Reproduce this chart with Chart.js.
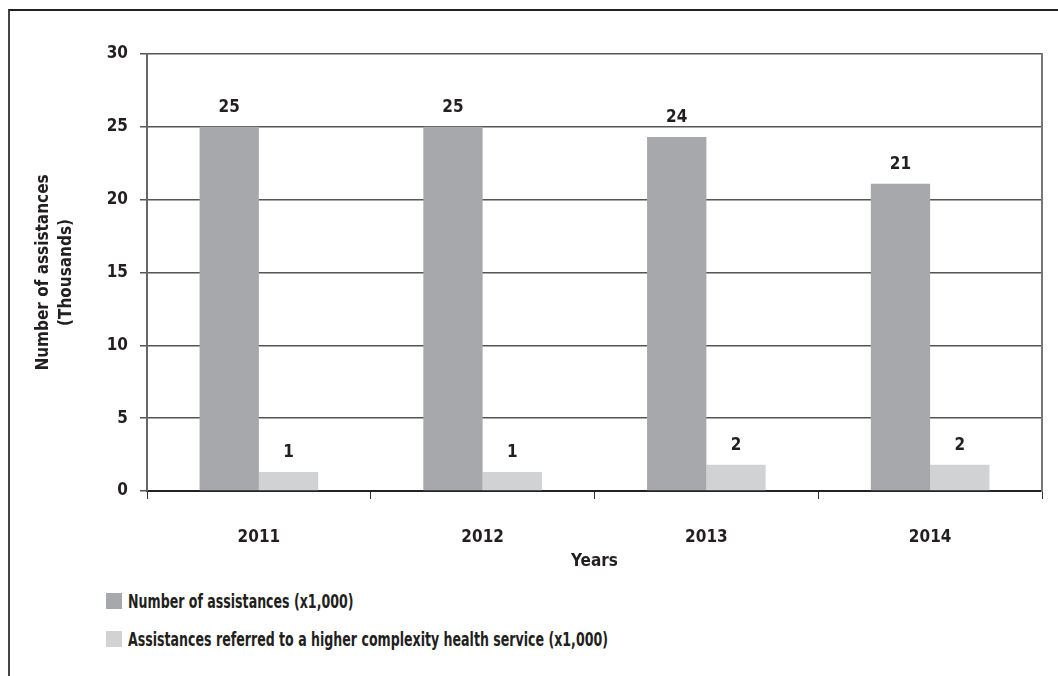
<!DOCTYPE html>
<html>
<head>
<meta charset="utf-8">
<script src="https://cdn.jsdelivr.net/npm/chart.js@4.4.1/dist/chart.umd.min.js"></script>
<style>
  html, body { margin: 0; padding: 0; background: #fff; }
  body { width: 1058px; height: 676px; position: relative; overflow: hidden;
         font-family: 'DejaVu Sans Condensed', 'Liberation Sans Narrow', sans-serif; }
  #frame { position: absolute; left: 8px; top: 9px; right: -2px; bottom: -2px;
           border-top: 2px solid #222; border-left: 2px solid #444; }
  #wrap { position: absolute; left: 0; top: 0; width: 1058px; height: 580px; }
  #legend { position: absolute; left: 106px; top: 582px; }
  .item { display: flex; align-items: center; height: 38px; }
  .box { width: 16px; height: 16px; margin-right: 6px; flex: none; }
  .txt { font-weight: bold; font-size: 20px; color: #231f20; white-space: nowrap;
         display: inline-block; transform: scaleX(0.7); transform-origin: left center; }
</style>
</head>
<body>
<div id="frame"></div>
<div id="wrap"><canvas id="chart"></canvas></div>
<div id="legend"></div>
<script>
// ===================================
// DATA
// ===================================
const years = ['2011', '2012', '2013', '2014'];
const assistances = [25.0, 25.0, 24.3, 21.1];
const referred = [1.3, 1.3, 1.8, 1.8];
const yTicks = [0, 5, 10, 15, 20, 25, 30];

const FONT = "'DejaVu Sans Condensed', 'Liberation Sans Narrow', sans-serif";
const TEXT = '#231f20';
const SIZE = 17;

// value labels above bars (rounded like the original)
const barLabels = {
    id: 'barLabels',
    afterDatasetsDraw(chart) {
        const c = chart.ctx;
        c.save();
        c.font = 'bold ' + SIZE + 'px ' + FONT;
        c.fillStyle = TEXT;
        c.textAlign = 'center';
        c.textBaseline = 'bottom';
        chart.data.datasets.forEach((ds, i) => {
            chart.getDatasetMeta(i).data.forEach((bar, j) => {
                c.fillText(Math.round(ds.data[j]), bar.x, bar.y - 11);
            });
        });
        c.restore();
    }
};

const ctx = document.getElementById('chart');
const chart = new Chart(ctx, {
    type: 'bar',
    data: {
        labels: years,
        datasets: [
            {
                label: 'Number of assistances (x1,000)',
                data: assistances,
                backgroundColor: '#a7a8ab',
                categoryPercentage: 0.53,
                barPercentage: 1.0
            },
            {
                label: 'Assistances referred to a higher complexity health service (x1,000)',
                data: referred,
                backgroundColor: '#d1d2d4',
                categoryPercentage: 0.53,
                barPercentage: 1.0
            }
        ]
    },
    options: {
        responsive: true,
        maintainAspectRatio: false,
        animation: false,
        layout: { padding: { top: 54, right: 16, left: 0, bottom: 0 } },
        plugins: {
            legend: { display: false },
            tooltip: { enabled: false }
        },
        scales: {
            x: {
                grid: { drawOnChartArea: false, color: '#333', tickLength: 8, offset: true },
                border: { color: '#222', width: 2 },
                ticks: {
                    color: TEXT,
                    font: { family: FONT, size: SIZE, weight: 'bold' },
                    padding: 28
                },
                title: {
                    display: true,
                    text: 'Years',
                    color: TEXT,
                    font: { family: FONT, size: SIZE, weight: 'bold' },
                    padding: { top: 2, bottom: 8 }
                },
                afterFit: (scale) => { scale.height = 89; }
            },
            y: {
                min: 0,
                max: 30,
                afterBuildTicks: (scale) => { scale.ticks = yTicks.map(v => ({ value: v })); },
                grid: { color: '#555', lineWidth: 1.5, tickLength: 7 },
                border: { color: '#666', width: 2 },
                ticks: {
                    color: TEXT,
                    font: { family: FONT, size: SIZE, weight: 'bold' },
                    padding: 12
                },
                title: {
                    display: true,
                    text: ['Number of assistances', '(Thousands)'],
                    color: TEXT,
                    font: { family: FONT, size: SIZE, weight: 'bold', lineHeight: 1.3 },
                    padding: { top: 33, bottom: 0 }
                },
                afterFit: (scale) => { scale.width = 147; }
            },
            yRight: {
                position: 'right',
                min: 0,
                max: 30,
                grid: { display: false },
                border: { display: true, color: '#777', width: 2 },
                ticks: { display: false },
                afterFit: (scale) => { scale.width = 0; }
            }
        }
    },
    plugins: [barLabels]
});

// HTML legend, stacked vertically like the original
const legendEl = document.getElementById('legend');
chart.data.datasets.forEach(ds => {
    const row = document.createElement('div');
    row.className = 'item';
    const box = document.createElement('span');
    box.className = 'box';
    box.style.background = ds.backgroundColor;
    const txt = document.createElement('span');
    txt.className = 'txt';
    txt.textContent = ds.label;
    row.appendChild(box);
    row.appendChild(txt);
    legendEl.appendChild(row);
});
</script>
</body>
</html>
